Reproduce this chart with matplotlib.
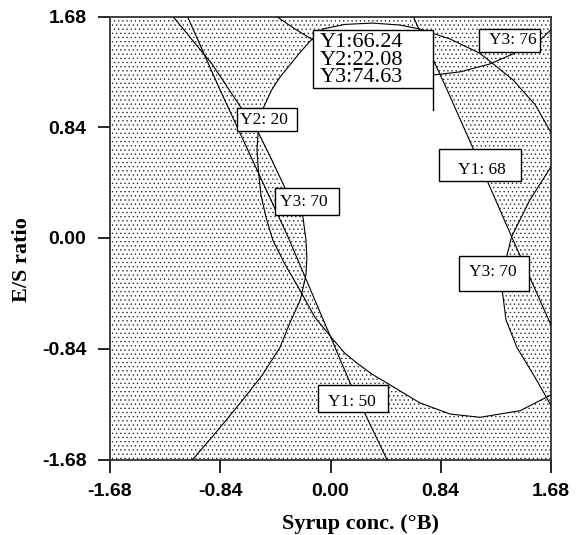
import numpy as np
import matplotlib
matplotlib.use("Agg")
import matplotlib.pyplot as plt
from matplotlib.patches import Rectangle
from matplotlib.path import Path

# contour traces in coded units
y2_20_x = [1.68, 1.444, 1.14, 0.91, 0.68, 0.43, 0.32, 0.21, 0.11, 0.02, -0.12, -0.23, -0.347,
           -0.44, -0.49, -0.53, -0.55, -0.56, -0.55, -0.51, -0.45, -0.385, -0.23, -0.13,
           -0.06, 0.11, 0.32, 0.53, 0.68, 0.91, 1.14, 1.39, 1.56, 1.68]
y2_20_y = [-1.19, -1.31, -1.36, -1.335, -1.25, -1.10, -1.035, -0.955, -0.875, -0.77, -0.60,
           -0.40, -0.20, -0.015, 0.152, 0.326, 0.516, 0.67, 0.82, 0.99, 1.12, 1.22, 1.41,
           1.52, 1.585, 1.62, 1.63, 1.615, 1.585, 1.51, 1.40, 1.20, 1.01, 0.80]

y1_50_x = [-1.09, -0.84, -0.32, 0.15, 0.43]
y1_50_y = [1.68, 1.12, 0.0, -1.10, -1.68]

y1_68_x = [0.63, 0.89, 1.086, 1.38, 1.68]
y1_68_y = [1.68, 1.12, 0.68, 0.01, -0.66]

y3_70_left_x = [-1.20, -0.903, -0.70, -0.55, -0.446, -0.347, -0.21, -0.187, -0.18, -0.187,
                -0.23, -0.31, -0.385, -0.52, -0.67, -0.86, -1.05]
y3_70_left_y = [1.68, 1.32, 1.016, 0.80, 0.59, 0.38, 0.16, -0.015, -0.15, -0.28,
                -0.47, -0.645, -0.83, -1.04, -1.23, -1.46, -1.68]

y3_70_right_x = [1.68, 1.52, 1.38, 1.345, 1.315, 1.31, 1.337, 1.42, 1.56, 1.68]
y3_70_right_y = [0.54, 0.29, 0.01, -0.13, -0.27, -0.41, -0.62, -0.83, -1.06, -1.27]

y3_76_x = [-0.41, -0.27, -0.13, 0.30, 0.78, 0.987, 1.215, 1.39, 1.596, 1.68]
y3_76_y = [1.68, 1.585, 1.50, 1.30, 1.236, 1.26, 1.32, 1.396, 1.50, 1.58]

flag_x, flag_y = 0.78, 0.97
flag_names = ["Y1", "Y2", "Y3"]
flag_values = [66.24, 22.08, 74.63]

ticks = [-1.68, -0.84, 0.00, 0.84, 1.68]

SERIF = "Liberation Serif"
SANS = "Liberation Sans"
plt.rcParams["hatch.color"] = "#222222"
plt.rcParams["hatch.linewidth"] = 0.45


def x_on_trace(cx, cy, yy, outside):
    """x of a y-monotone trace at heights yy; `outside` where the trace has left the frame."""
    cx = np.asarray(cx)
    cy = np.asarray(cy)
    order = np.argsort(cy)
    return np.interp(yy, cy[order], cx[order], left=outside, right=outside)


def label_box(ax, text, tx, ty, x0, x1, y0, y1, size=12.5, ha="center", spacing=1.2):
    ax.add_patch(Rectangle((x0, y0), x1 - x0, y1 - y0, fc="white", ec="black",
                           lw=1.0, zorder=5))
    ax.text(tx, ty, text, family=SERIF, fontsize=size, ha=ha, va="center",
            linespacing=spacing, zorder=6)


fig = plt.figure(figsize=(5.76, 5.35), dpi=100)
ax = fig.add_axes([110 / 576, 1 - 459.5 / 535, 441 / 576, 443 / 535])

# feasible (unshaded) window
g = np.linspace(-1.68, 1.68, 800)
gx, gy = np.meshgrid(g, g)
pts = np.column_stack([gx.ravel(), gy.ravel()])
inside = Path(np.column_stack([y2_20_x, y2_20_y])).contains_points(pts).reshape(gx.shape)
ok = inside
ok &= gx > x_on_trace(y1_50_x, y1_50_y, gy, -9)
ok &= gx < x_on_trace(y1_68_x, y1_68_y, gy, 9)
ok &= gx > x_on_trace(y3_70_left_x, y3_70_left_y, gy, -9)
ok &= gx < x_on_trace(y3_70_right_x, y3_70_right_y, gy, 9)
shade = (~ok).astype(float)
ax.contourf(gx, gy, shade, levels=[0.5, 1.5], colors="none", hatches=["...."], zorder=1)

for cx, cy in [(y2_20_x, y2_20_y), (y1_50_x, y1_50_y), (y1_68_x, y1_68_y),
               (y3_70_left_x, y3_70_left_y), (y3_70_right_x, y3_70_right_y),
               (y3_76_x, y3_76_y)]:
    ax.plot(cx, cy, color="black", lw=0.8, zorder=3)

label_box(ax, "Y2: 20", -0.507, 0.895, -0.712, -0.255, 0.812, 0.986)
label_box(ax, "Y3: 70", -0.202, 0.273, -0.423, 0.065, 0.175, 0.379)
label_box(ax, "Y1: 68", 1.154, 0.516, 0.827, 1.451, 0.432, 0.675)
label_box(ax, "Y3: 70", 1.238, -0.258, 0.979, 1.512, -0.402, -0.136)
label_box(ax, "Y1: 50", 0.164, -1.244, -0.095, 0.438, -1.319, -1.115)
label_box(ax, "Y3: 76", 1.39, 1.502, 1.131, 1.596, 1.411, 1.585)

# flag at the selected point
flag_text = "\n".join(f"{n}:{v:.2f}" for n, v in zip(flag_names, flag_values))
ax.plot([flag_x, flag_x], [flag_y, 1.138], color="black", lw=1.0, zorder=4)
label_box(ax, flag_text, -0.08, 1.35, -0.133, flag_x, 1.138, 1.578,
          size=16, ha="left", spacing=0.87)

ax.set_xlim(-1.68, 1.68)
ax.set_ylim(-1.68, 1.68)
ax.set_xticks(ticks)
ax.set_yticks(ticks)
ax.set_xticklabels([f"{t:.2f}" for t in ticks], family=SANS, fontweight="bold", fontsize=14)
ax.set_yticklabels([f"{t:.2f}" for t in ticks], family=SANS, fontweight="bold", fontsize=14)
ax.tick_params(direction="out", length=9, width=1.2, pad=8)
for s in ax.spines.values():
    s.set_linewidth(1.3)
    s.set_color("#333333")

fig.text(360 / 576, 1 - 524 / 535, "Syrup conc. (°B)", family=SERIF, fontweight="bold",
         fontsize=16, ha="center", va="center")
fig.text(22 / 576, 1 - 260 / 535, "E/S ratio", family=SERIF, fontweight="bold",
         fontsize=16, ha="center", va="center", rotation=90)

fig.savefig("out.png", dpi=100)
